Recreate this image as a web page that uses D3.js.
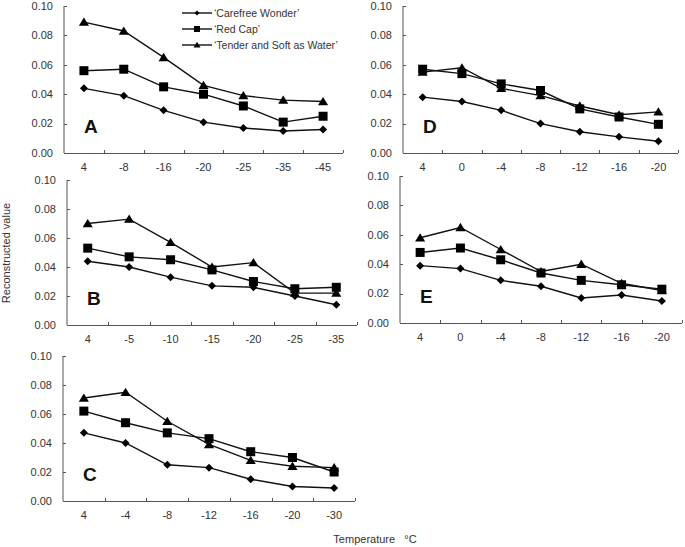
<!DOCTYPE html>
<html>
<head>
<meta charset="utf-8">
<script src="https://cdn.jsdelivr.net/npm/d3@7"></script>
<style>
  body { margin: 0; background: #fff; }
  svg { font-family: "Liberation Sans", Arial, sans-serif; }
</style>
</head>
<body>
<div class="container"></div>
<script>
var width = 685,
  height = 547;

var seriesNames = ["\u2018Carefree Wonder\u2019", "\u2018Red Cap\u2019", "\u2018Tender and Soft as Water\u2019"];
var yTicks = [0, 0.02, 0.04, 0.06, 0.08, 0.10];

// panel A
var tempsA = ["4", "-8", "-16", "-20", "-25", "-35", "-45"];
var carefreeA = [0.044, 0.039, 0.029, 0.021, 0.017, 0.015, 0.016];
var redCapA = [0.056, 0.057, 0.045, 0.040, 0.032, 0.021, 0.025];
var tenderA = [0.089, 0.083, 0.065, 0.046, 0.039, 0.036, 0.035];

// panel B
var tempsB = ["4", "-5", "-10", "-15", "-20", "-25", "-35"];
var carefreeB = [0.044, 0.040, 0.033, 0.027, 0.026, 0.020, 0.014];
var redCapB = [0.053, 0.047, 0.045, 0.038, 0.030, 0.025, 0.026];
var tenderB = [0.070, 0.073, 0.057, 0.040, 0.043, 0.022, 0.022];

// panel C
var tempsC = ["4", "-4", "-8", "-12", "-16", "-20", "-30"];
var carefreeC = [0.047, 0.040, 0.025, 0.023, 0.015, 0.010, 0.009];
var redCapC = [0.062, 0.054, 0.047, 0.043, 0.034, 0.030, 0.020];
var tenderC = [0.071, 0.075, 0.055, 0.039, 0.028, 0.024, 0.023];

// panel D
var tempsD = ["4", "0", "-4", "-8", "-12", "-16", "-20"];
var carefreeD = [0.038, 0.035, 0.029, 0.020, 0.0145, 0.011, 0.008];
var redCapD = [0.057, 0.054, 0.047, 0.0425, 0.030, 0.0245, 0.0195];
var tenderD = [0.055, 0.058, 0.044, 0.039, 0.032, 0.026, 0.028];

// panel E
var tempsE = ["4", "0", "-4", "-8", "-12", "-16", "-20"];
var carefreeE = [0.039, 0.037, 0.029, 0.025, 0.017, 0.019, 0.015];
var redCapE = [0.048, 0.051, 0.043, 0.034, 0.029, 0.026, 0.023];
var tenderE = [0.058, 0.065, 0.050, 0.035, 0.040, 0.027, 0.022];

// panel boxes: left, right, top, bottom
var panels = [
  { label: "A", temps: tempsA, series: [carefreeA, redCapA, tenderA], box: [64, 343, 6, 153] },
  { label: "B", temps: tempsB, series: [carefreeB, redCapB, tenderB], box: [67, 357, 180, 325] },
  { label: "C", temps: tempsC, series: [carefreeC, redCapC, tenderC], box: [63, 355, 356, 501] },
  { label: "D", temps: tempsD, series: [carefreeD, redCapD, tenderD], box: [403, 678, 6, 153] },
  { label: "E", temps: tempsE, series: [carefreeE, redCapE, tenderE], box: [400, 682, 176, 323] }
];

// marker shapes, s = half size
function markerPath(kind, s) {
  if (kind === 0) return "M0," + (-s) + "L" + s + ",0L0," + s + "L" + (-s) + ",0Z";
  if (kind === 1) return "M" + (-s) + "," + (-s) + "H" + s + "V" + s + "H" + (-s) + "Z";
  return "M0," + (-s) + "L" + (s * 1.1) + "," + (s * 0.8) + "H" + (-s * 1.1) + "Z";
}
var markerSize = [4, 4.5, 4.6];

var svg = d3.select(".container").append("svg")
  .attr("width", width)
  .attr("height", height);

var axisColor = "#555";
var textColor = "#333";

panels.forEach(function (p) {
  var b = p.box;
  var x = d3.scaleBand().domain(p.temps).range([b[0], b[1]]).padding(0);
  var y = d3.scaleLinear().domain([0, 0.10]).range([b[3], b[2]]);
  var g = svg.append("g");

  // y axis line + inward ticks
  g.append("line").attr("x1", b[0]).attr("x2", b[0]).attr("y1", b[2]).attr("y2", b[3])
    .attr("stroke", axisColor);
  g.selectAll(".yt").data(yTicks).enter().append("line")
    .attr("x1", b[0]).attr("x2", b[0] + 3)
    .attr("y1", function (d) { return Math.round(y(d)) + 0.5; })
    .attr("y2", function (d) { return Math.round(y(d)) + 0.5; })
    .attr("stroke", axisColor);
  g.selectAll(".yl").data(yTicks).enter().append("text")
    .attr("x", b[0] - 11)
    .attr("y", function (d) { return y(d); })
    .attr("dy", "0.35em")
    .attr("text-anchor", "end")
    .attr("font-size", 11)
    .attr("fill", textColor)
    .text(d3.format(".2f"));

  // x axis line + ticks between categories
  g.append("line").attr("x1", b[0]).attr("x2", b[1])
    .attr("y1", b[3] + 0.5).attr("y2", b[3] + 0.5)
    .attr("stroke", axisColor);
  var bounds = p.temps.slice(1).map(function (t) { return x(t); }).concat([b[1]]);
  g.selectAll(".xt").data(bounds).enter().append("line")
    .attr("x1", function (d) { return Math.round(d) + 0.5; })
    .attr("x2", function (d) { return Math.round(d) + 0.5; })
    .attr("y1", b[3]).attr("y2", b[3] - 3)
    .attr("stroke", axisColor);
  g.selectAll(".xl").data(p.temps).enter().append("text")
    .attr("x", function (d) { return x(d) + x.bandwidth() / 2; })
    .attr("y", b[3] + 18)
    .attr("text-anchor", "middle")
    .attr("font-size", 11)
    .attr("fill", textColor)
    .text(function (d) { return d; });

  // panel letter
  g.append("text")
    .attr("x", b[0] + 20)
    .attr("y", b[3] - 20)
    .attr("font-size", 19)
    .attr("font-weight", "bold")
    .attr("fill", "#111")
    .text(p.label);

  var line = d3.line()
    .x(function (d, i) { return x(p.temps[i]) + x.bandwidth() / 2; })
    .y(function (d) { return y(d); });

  p.series.forEach(function (vals, k) {
    g.append("path").datum(vals)
      .attr("d", line)
      .attr("fill", "none")
      .attr("stroke", "#111")
      .attr("stroke-width", 1.4);
    g.selectAll(".m" + k).data(vals).enter().append("path")
      .attr("transform", function (d, i) {
        return "translate(" + (x(p.temps[i]) + x.bandwidth() / 2) + "," + y(d) + ")";
      })
      .attr("d", markerPath(k, markerSize[k]))
      .attr("fill", "#000");
  });
});

// legend
var legend = svg.append("g");
seriesNames.forEach(function (name, k) {
  var ly = 13 + k * 16;
  legend.append("line").attr("x1", 182).attr("x2", 212).attr("y1", ly).attr("y2", ly)
    .attr("stroke", "#111").attr("stroke-width", 1.4);
  legend.append("path")
    .attr("transform", "translate(197," + ly + ")")
    .attr("d", markerPath(k, [2.6, 3, 3.2][k]))
    .attr("fill", "#000");
  legend.append("text")
    .attr("x", 214).attr("y", ly).attr("dy", "0.35em")
    .attr("font-size", 10.5).attr("fill", textColor)
    .text(name);
});

// axis titles
svg.append("text")
  .attr("transform", "translate(10,253) rotate(-90)")
  .attr("text-anchor", "middle")
  .attr("font-size", 11)
  .attr("fill", textColor)
  .text("Reconstructed value");

svg.append("text")
  .attr("x", 375).attr("y", 543)
  .attr("text-anchor", "middle")
  .attr("font-size", 11)
  .attr("fill", textColor)
  .style("white-space", "pre")
  .text("Temperature   \u00b0C");
</script>
</body>
</html>
